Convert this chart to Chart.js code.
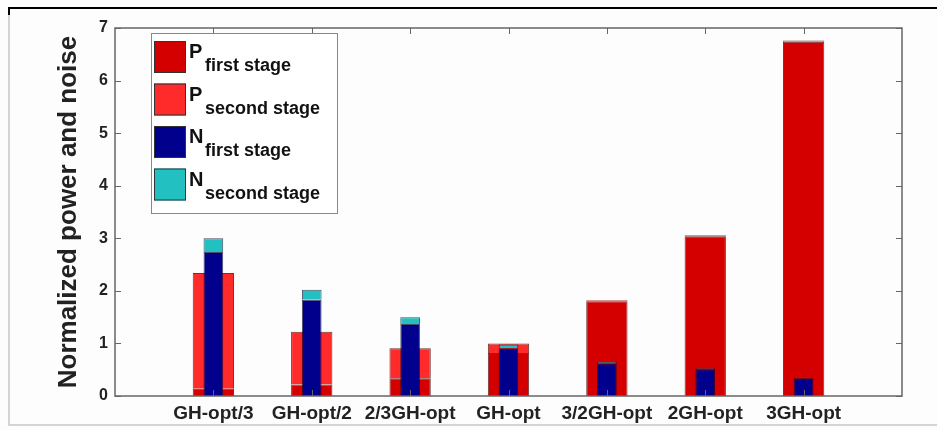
<!DOCTYPE html>
<html>
<head>
<meta charset="utf-8">
<script src="https://cdn.jsdelivr.net/npm/chart.js@4"></script>
<style>
html, body { margin: 0; padding: 0; background: #fff; }
#wrap { width: 937px; height: 430px; }
</style>
</head>
<body>
<div id="wrap"><canvas id="grafica"></canvas></div>
<script>
var categorias = ['GH-opt/3', 'GH-opt/2', '2/3GH-opt', 'GH-opt', '3/2GH-opt', '2GH-opt', '3GH-opt'];
var pPrimera = [0.14, 0.22, 0.34, 0.82, 1.80, 3.04, 6.74];
var pSegunda = [2.20, 1.00, 0.57, 0.18, 0.02, 0.02, 0.02];
var nPrimera = [2.74, 1.83, 1.37, 0.91, 0.62, 0.51, 0.34];
var nSegunda = [0.26, 0.19, 0.13, 0.07, 0.03, 0.02, 0.01];
var yTicks = [0, 1, 2, 3, 4, 5, 6, 7];
var leyendaLetra = ['P', 'P', 'N', 'N'];
var leyendaSub = ['first stage', 'second stage', 'first stage', 'second stage'];
var colores = ['#d40000', '#ff2a2a', '#00008c', '#22c0c0'];

var fuente = '"Liberation Sans", Arial, sans-serif';

function puntos(valores){
    return valores.map((v, i) => ({x: i + 1, y: v}));
}

// marco de la figura, caja de ejes y leyenda
var marco = {
    id: 'marco',
    beforeDraw(chart){
        let ctx = chart.ctx;
        ctx.save();
        ctx.fillStyle = '#fdfdfd';
        ctx.fillRect(0, 0, chart.width, chart.height);
        ctx.strokeStyle = '#000';
        ctx.lineWidth = 2;
        ctx.beginPath();
        ctx.moveTo(9, 15); ctx.lineTo(9, 8); ctx.lineTo(937, 8);
        ctx.stroke();
        ctx.strokeStyle = '#c8c8c8';
        ctx.lineWidth = 1.5;
        ctx.beginPath();
        ctx.moveTo(9, 15); ctx.lineTo(9, 425); ctx.lineTo(937, 425);
        ctx.stroke();
        ctx.restore();
    },
    afterDatasetsDraw(chart){
        let ctx = chart.ctx, a = chart.chartArea;
        let xs = chart.scales.x, ys = chart.scales.y;
        ctx.save();
        ctx.strokeStyle = '#666';
        ctx.lineWidth = 1.5;
        ctx.strokeRect(a.left, a.top, a.right - a.left, a.bottom - a.top);
        ctx.lineWidth = 1;
        ctx.beginPath();
        yTicks.forEach(t => {
            let py = Math.round(ys.getPixelForValue(t)) + 0.5;
            ctx.moveTo(a.left, py); ctx.lineTo(a.left + 6, py);
            ctx.moveTo(a.right, py); ctx.lineTo(a.right - 6, py);
        });
        categorias.forEach((c, i) => {
            let px = Math.round(xs.getPixelForValue(i + 1)) + 0.5;
            ctx.moveTo(px, a.bottom); ctx.lineTo(px, a.bottom - 6);
            ctx.moveTo(px, a.top); ctx.lineTo(px, a.top + 6);
        });
        ctx.stroke();

        // leyenda
        let lx = 151, ly = 33;
        ctx.fillStyle = '#fff';
        ctx.fillRect(lx, ly, 186, 180);
        ctx.strokeStyle = '#888';
        ctx.strokeRect(lx + 0.5, ly + 0.5, 186, 180);
        leyendaLetra.forEach((l, i) => {
            let sy = 41 + i * 42.5;
            ctx.fillStyle = colores[i];
            ctx.fillRect(154, sy, 32, 32);
            ctx.strokeStyle = '#333';
            ctx.strokeRect(154.5, sy + 0.5, 31, 31);
            ctx.fillStyle = '#111';
            ctx.font = 'bold 20px ' + fuente;
            ctx.textBaseline = 'alphabetic';
            ctx.fillText(l, 189, sy + 17);
            ctx.font = 'bold 18px ' + fuente;
            ctx.fillText(leyendaSub[i], 205, sy + 30);
        });
        ctx.restore();
    }
};

var datasetsN = [
    {label: 'N first stage', data: puntos(nPrimera), backgroundColor: colores[2]},
    {label: 'N second stage', data: puntos(nSegunda), backgroundColor: colores[3]}
].map(d => Object.assign(d, {stack: 'N', barPercentage: 0.2, categoryPercentage: 1, borderColor: 'rgba(0,0,40,0.7)', borderWidth: 1}));

var datasetsP = [
    {label: 'P first stage', data: puntos(pPrimera), backgroundColor: colores[0]},
    {label: 'P second stage', data: puntos(pSegunda), backgroundColor: colores[1]}
].map(d => Object.assign(d, {stack: 'P', barPercentage: 0.42, categoryPercentage: 1, borderColor: 'rgba(70,0,0,0.8)', borderWidth: 1}));

var grafica = new Chart(document.getElementById('grafica'), {
    type: 'bar',
    data: {datasets: datasetsN.concat(datasetsP)},
    options: {
        responsive: true,
        maintainAspectRatio: false,
        animation: false,
        datasets: {bar: {grouped: false}},
        layout: {padding: {left: 10, top: 28, right: 35, bottom: 0}},
        plugins: {legend: {display: false}, tooltip: {enabled: false}},
        scales: {
            x: {
                type: 'linear', min: 0, max: 8, offset: false,
                grid: {display: false, drawTicks: false, offset: false},
                border: {display: false},
                afterBuildTicks(s){ s.ticks = categorias.map((c, i) => ({value: i + 1})); },
                afterFit(s){ s.height = 34; },
                ticks: {
                    padding: 6, autoSkip: false, maxRotation: 0, color: '#222',
                    font: {family: fuente, size: 19, weight: 'bold'},
                    callback: v => categorias[v - 1] || ''
                }
            },
            y: {
                min: 0, max: 7, stacked: true,
                grid: {display: false, drawTicks: false},
                border: {display: false},
                afterBuildTicks(s){ s.ticks = yTicks.map(v => ({value: v})); },
                afterFit(s){ s.width = 105; },
                ticks: {
                    padding: 7, color: '#222',
                    font: {family: fuente, size: 16, weight: 'bold'}
                },
                title: {
                    display: true, text: 'Normalized power and noise', color: '#222',
                    padding: {top: 43, bottom: 0},
                    font: {family: fuente, size: 26, weight: 'bold'}
                }
            }
        }
    },
    plugins: [marco]
});
</script>
</body>
</html>
